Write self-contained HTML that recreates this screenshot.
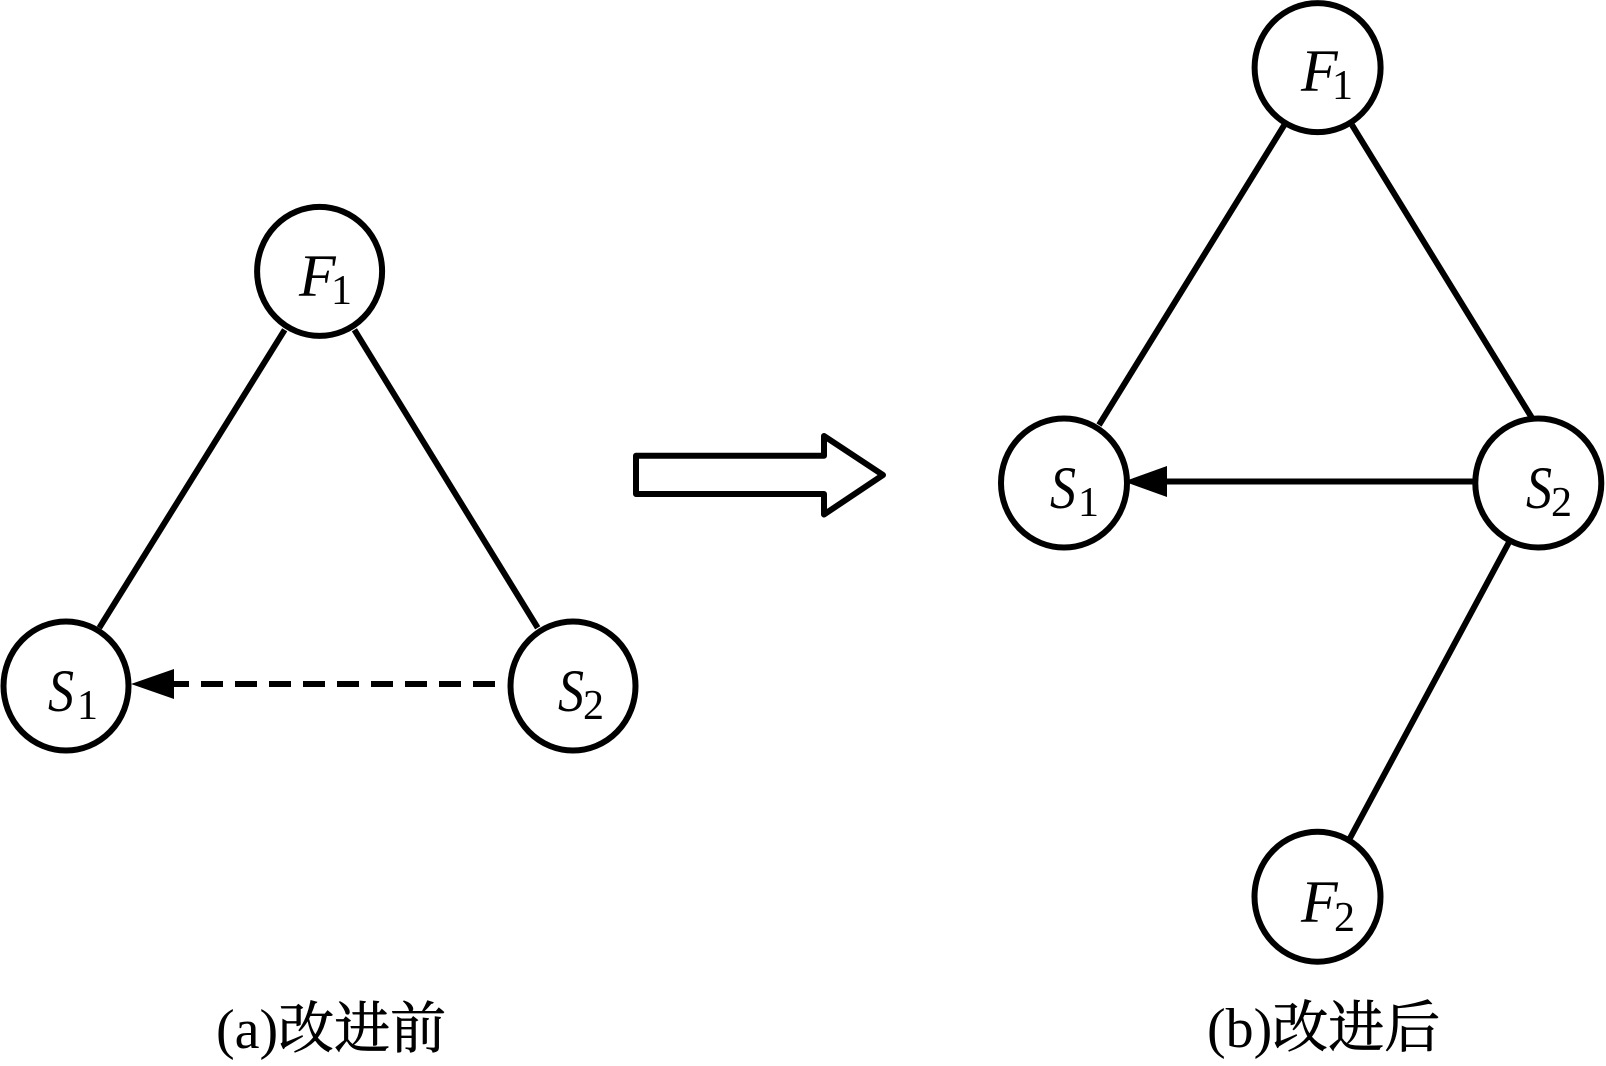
<!DOCTYPE html>
<html><head><meta charset="utf-8"><style>
html,body{margin:0;padding:0;background:#fff;width:1606px;height:1066px;overflow:hidden}
svg{display:block}
text{fill:#000;font-family:"Liberation Serif","Noto Serif CJK SC",serif}
.v{font-size:60px;font-style:italic}
.s{font-size:42px}
.c{font-size:56px}
.c tspan{stroke:#000;stroke-width:.7px}
</style></head><body>
<svg width="1606" height="1066" viewBox="0 0 1606 1066" xmlns="http://www.w3.org/2000/svg">
<g fill="none" stroke="#000" stroke-width="6">
<ellipse cx="319.6" cy="271.4" rx="62.5" ry="64.5"/>
<ellipse cx="66" cy="686" rx="62.5" ry="64.5"/>
<ellipse cx="573" cy="686" rx="62.5" ry="64.5"/>
<line x1="284.7" y1="329.8" x2="99.3" y2="627.8"/>
<line x1="354.4" y1="329.8" x2="537.7" y2="627.8"/>
<line x1="495" y1="684" x2="172" y2="684" stroke-dasharray="22 12" stroke-width="6"/>
<path d="M636 455.7H824V436L883 475L824 514.5V494H636Z" stroke-linejoin="round" stroke-width="6"/>
<ellipse cx="1317.6" cy="67.6" rx="63" ry="64.5"/>
<ellipse cx="1064" cy="483" rx="63" ry="64.5"/>
<ellipse cx="1538.3" cy="483" rx="63" ry="64.5"/>
<ellipse cx="1317.5" cy="896.7" rx="63" ry="65"/>
<line x1="1284.3" y1="125" x2="1099" y2="425"/>
<line x1="1352" y1="125" x2="1532" y2="418"/>
<line x1="1508.6" y1="543" x2="1349" y2="840"/>
<line x1="1475" y1="481.5" x2="1160" y2="481.5"/>
</g>
<polygon points="131,684 174,669 174,699" fill="#000"/>
<polygon points="1124,481.5 1167,466 1167,497" fill="#000"/>
<text class="v" x="299" y="296">F</text><text class="s" x="331" y="304">1</text>
<text class="v" x="48" y="711" textLength="26" lengthAdjust="spacingAndGlyphs">S</text><text class="s" x="77" y="719">1</text>
<text class="v" x="558" y="711" textLength="26" lengthAdjust="spacingAndGlyphs">S</text><text class="s" x="583" y="719">2</text>
<text class="v" x="1301" y="91">F</text><text class="s" x="1332" y="99">1</text>
<text class="v" x="1050" y="508" textLength="26" lengthAdjust="spacingAndGlyphs">S</text><text class="s" x="1078" y="516">1</text>
<text class="v" x="1526" y="508" textLength="26" lengthAdjust="spacingAndGlyphs">S</text><text class="s" x="1551" y="516">2</text>
<text class="v" x="1301" y="922">F</text><text class="s" x="1334" y="931">2</text>
<text class="c" x="216" y="1048">(a)<tspan>改进前</tspan></text>
<text class="c" x="1207" y="1047">(b)<tspan>改进后</tspan></text>
</svg>
</body></html>
